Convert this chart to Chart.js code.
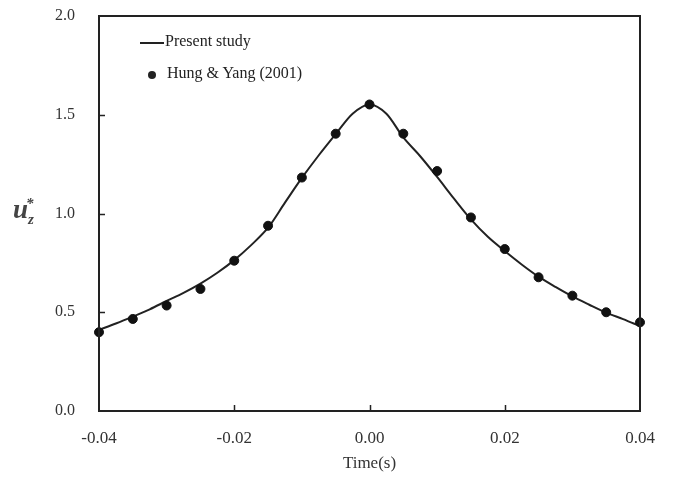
<!DOCTYPE html>
<html>
<head>
<meta charset="utf-8">
<script src="https://cdn.jsdelivr.net/npm/chart.js@4.4.1/dist/chart.umd.min.js"></script>
<style>
  body { margin: 0; background: #fff; }
  #wrap { position: relative; width: 682px; height: 490px; }
  #ylab { position: absolute; left: 13px; top: 194px; font-family: "Liberation Serif", serif; color: #444; font-weight: bold; font-style: italic; font-size: 27px; }
  #ylab sub { font-size: 15px; }
  #ylab sup { font-size: 15px; margin-left: -8px; }
  #legend { position: absolute; left: 140px; top: 32px; font-family: "Liberation Serif", serif; font-size: 16px; color: #222; }
  #legend .row { height: 32px; position: relative; }
  #legend .ln { position: absolute; left: 0; top: 10px; width: 24px; height: 2px; background: #222; }
  #legend .dot { position: absolute; left: 8px; top: 7px; width: 8px; height: 8px; border-radius: 4px; background: #222; }
  #legend .tx { position: absolute; left: 25px; top: 0px; white-space: nowrap; }
  #legend .tx2 { left: 27px; }
</style>
</head>
<body>
<div id="wrap">
  <canvas id="myChart" width="682" height="490"></canvas>
  <div id="ylab">u<sub>z</sub><sup>*</sup></div>
  <div id="legend">
    <div class="row"><div class="ln"></div><div class="tx">Present study</div></div>
    <div class="row"><div class="dot"></div><div class="tx tx2">Hung &amp; Yang (2001)</div></div>
  </div>
</div>
<script>
// Present study (solid curve)
var lineTime = [-0.04, -0.0375, -0.035, -0.0325, -0.03, -0.0275, -0.025, -0.0225, -0.02, -0.0175, -0.015, -0.0125, -0.01, -0.0075, -0.005, -0.0025,
  0, 0.0025, 0.005, 0.0075, 0.01, 0.0125, 0.015, 0.0175, 0.02, 0.0225, 0.025, 0.0275, 0.03, 0.0325, 0.035, 0.0375, 0.04];
var lineU = [0.411, 0.443, 0.478, 0.515, 0.557, 0.598, 0.645, 0.700, 0.764, 0.840, 0.928, 1.055, 1.180, 1.295, 1.402, 1.505,
  1.552, 1.505, 1.385, 1.290, 1.185, 1.075, 0.970, 0.882, 0.810, 0.742, 0.680, 0.628, 0.580, 0.538, 0.498, 0.465, 0.430];

// Hung & Yang (2001) (dots)
var dotTime = [-0.04, -0.035, -0.03, -0.025, -0.02, -0.015, -0.01, -0.005, 0, 0.005, 0.01, 0.015, 0.02, 0.025, 0.03, 0.035, 0.04];
var dotU = [0.399, 0.466, 0.534, 0.618, 0.761, 0.938, 1.182, 1.404, 1.552, 1.404, 1.215, 0.980, 0.820, 0.677, 0.584, 0.500, 0.449];

var xTicks = [-0.04, -0.02, 0.00, 0.02, 0.04];
var yTicks = [0.0, 0.5, 1.0, 1.5, 2.0];

function toXY(xs, ys) {
  var pts = [];
  for (var i = 0; i < xs.length; ++i) pts.push({ x: xs[i], y: ys[i] });
  return pts;
}

// box round the plot and inward tick marks
var frame = {
  id: 'frame',
  afterDatasetsDraw: function(chart) {
    var c = chart.ctx, a = chart.chartArea;
    var xs = chart.scales.x, ys = chart.scales.y;
    c.save();
    c.strokeStyle = '#222';
    c.lineWidth = 2;
    c.strokeRect(a.left, a.top, a.right - a.left, a.bottom - a.top);
    c.beginPath();
    for (var i = 1; i < xTicks.length - 1; ++i) {
      var px = Math.round(xs.getPixelForValue(xTicks[i])) + 0.5;
      c.moveTo(px, a.bottom); c.lineTo(px, a.bottom - 6);
    }
    for (var j = 1; j < yTicks.length - 1; ++j) {
      var py = Math.round(ys.getPixelForValue(yTicks[j])) + 0.5;
      c.moveTo(a.left, py); c.lineTo(a.left + 6, py);
    }
    c.lineWidth = 1.5;
    c.stroke();
    c.restore();
  }
};

var font = { family: '"Liberation Serif", serif', size: 16 };

var ctx = document.getElementById("myChart").getContext("2d");
var myChart = new Chart(ctx, {
  type: 'scatter',
  data: {
    datasets: [
      { label: 'Present study', data: toXY(lineTime, lineU), showLine: true, borderColor: '#222', borderWidth: 2,
        pointRadius: 0, cubicInterpolationMode: 'monotone', order: 2, clip: false },
      { label: 'Hung & Yang (2001)', data: toXY(dotTime, dotU), showLine: false, backgroundColor: '#111', borderColor: '#111',
        pointRadius: 4.5, order: 1, clip: false }
    ]
  },
  options: {
    responsive: false,
    animation: false,
    layout: { padding: { left: 0, right: 42, top: 16, bottom: 0 } },
    plugins: { legend: { display: false }, tooltip: { enabled: false } },
    scales: {
      x: {
        type: 'linear', min: -0.04, max: 0.04,
        afterBuildTicks: function(s) { s.ticks = xTicks.map(function(v) { return { value: v }; }); },
        afterFit: function(s) { s.height = 79; s.paddingLeft = 0; s.paddingRight = 0; },
        ticks: { color: '#333', font: { family: '"Liberation Serif", serif', size: 17 }, padding: 9, maxRotation: 0,
          callback: function(v) { return v.toFixed(2); } },
        grid: { display: false },
        border: { display: false },
        title: { display: true, text: 'Time(s)', color: '#333', font: { family: '"Liberation Serif", serif', size: 17 },
          padding: { top: 0, bottom: 16 } }
      },
      y: {
        min: 0, max: 2,
        afterBuildTicks: function(s) { s.ticks = yTicks.map(function(v) { return { value: v }; }); },
        afterFit: function(s) { s.width = 99; s.paddingTop = 0; s.paddingBottom = 0; },
        ticks: { color: '#333', font: font, padding: 16,
          callback: function(v) { return v.toFixed(1); } },
        grid: { display: false },
        border: { display: false }
      }
    }
  },
  plugins: [frame]
});
</script>
</body>
</html>
